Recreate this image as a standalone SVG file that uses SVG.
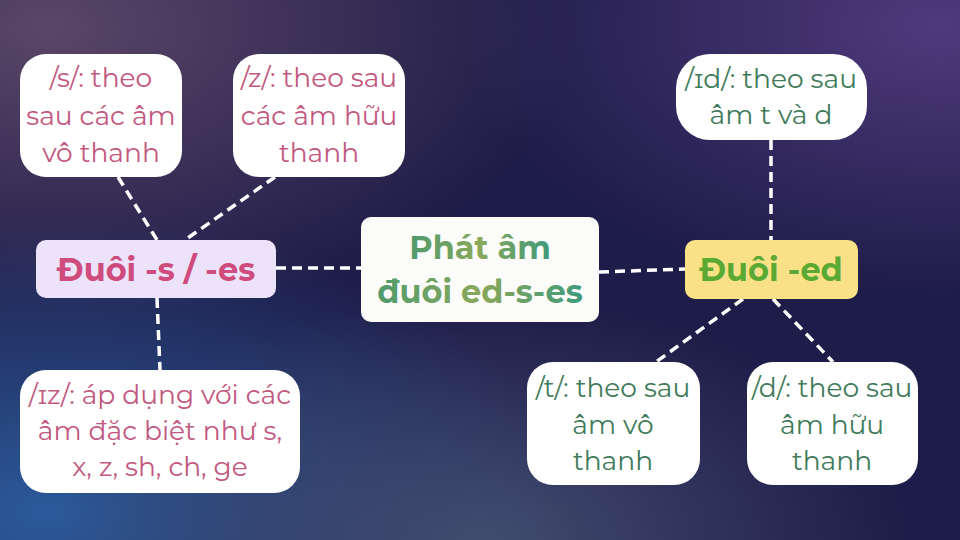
<svg xmlns="http://www.w3.org/2000/svg" width="960" height="540" viewBox="0 0 960 540">
<defs>
<radialGradient id="bgTL" cx="0.05" cy="0.05" r="0.55">
<stop offset="0" stop-color="#5a4668"/><stop offset="1" stop-color="#5a4668" stop-opacity="0"/>
</radialGradient>
<radialGradient id="bgTR" cx="0.98" cy="0.05" r="0.5">
<stop offset="0" stop-color="#4e3a7c"/><stop offset="1" stop-color="#4e3a7c" stop-opacity="0"/>
</radialGradient>
<radialGradient id="bgBL" cx="0.05" cy="0.95" r="0.55">
<stop offset="0" stop-color="#2b5a9a"/><stop offset="1" stop-color="#2b5a9a" stop-opacity="0"/>
</radialGradient>
<radialGradient id="bgBC" cx="0.5" cy="1" r="0.45">
<stop offset="0" stop-color="#424c70"/><stop offset="1" stop-color="#424c70" stop-opacity="0"/>
</radialGradient>
<linearGradient id="titleGrad" x1="0" y1="0" x2="1" y2="0">
<stop offset="0" stop-color="#4f9a6c"/><stop offset="0.5" stop-color="#8aa85a"/><stop offset="1" stop-color="#3f9a7c"/>
</linearGradient>
<style>
.leaf{fill:#ffffff}
.pk{fill:#c2587f;font-family:"Montserrat","Noto Sans","Open Sans",sans-serif;font-size:26.5px;text-anchor:middle}
.gr{fill:#3f7b5a;font-family:"Montserrat","Noto Sans","Open Sans",sans-serif;font-size:26.5px;text-anchor:middle}
.bold{font-family:"Montserrat","Noto Sans","Open Sans",sans-serif;font-weight:bold;font-size:32px;text-anchor:middle}
.conn{stroke:#ffffff;stroke-width:3.5;stroke-dasharray:10 6;fill:none}
</style>
</defs>
<rect width="960" height="540" fill="#1e1c48"/>
<rect width="960" height="540" fill="url(#bgTL)"/>
<rect width="960" height="540" fill="url(#bgTR)"/>
<rect width="960" height="540" fill="url(#bgBL)"/>
<rect width="960" height="540" fill="url(#bgBC)"/>
<g id="connectors">
<line class="conn" x1="118" y1="177" x2="157" y2="240"/>
<line class="conn" x1="275" y1="177" x2="185" y2="240"/>
<line class="conn" x1="157" y1="298" x2="160" y2="370"/>
<line class="conn" x1="276" y1="268" x2="361" y2="268"/>
<line class="conn" x1="599" y1="272" x2="685" y2="269"/>
<line class="conn" x1="771" y1="140" x2="771" y2="240"/>
<line class="conn" x1="743" y1="299" x2="656" y2="362"/>
<line class="conn" x1="773" y1="299" x2="833" y2="362"/>
</g>
<g id="node-s">
<rect class="leaf" x="20" y="54" width="162" height="123" rx="26"/>
<text class="pk" x="101" y="87">/s/: theo</text>
<text class="pk" x="101" y="125">sau các âm</text>
<text class="pk" x="101" y="162">vô thanh</text>
</g>
<g id="node-z">
<rect class="leaf" x="233" y="54" width="172" height="123" rx="26"/>
<text class="pk" x="319" y="87">/z/: theo sau</text>
<text class="pk" x="319" y="125">các âm hữu</text>
<text class="pk" x="319" y="162">thanh</text>
</g>
<g id="node-duoi-s">
<rect x="36" y="240" width="240" height="58" rx="10" fill="#ece2fa"/>
<text class="bold" x="156" y="281" fill="#cf4b7c">Đuôi -s / -es</text>
</g>
<g id="node-iz">
<rect class="leaf" x="20" y="370" width="280" height="123" rx="26"/>
<text class="pk" x="160" y="404">/ɪz/: áp dụng với các</text>
<text class="pk" x="160" y="440">âm đặc biệt như s,</text>
<text class="pk" x="160" y="476">x, z, sh, ch, ge</text>
</g>
<g id="node-center">
<rect x="361" y="217" width="238" height="105" rx="10" fill="#fbfbf9"/>
<text class="bold" x="480" y="259" fill="url(#titleGrad)">Phát âm</text>
<text class="bold" x="480" y="303" fill="url(#titleGrad)">đuôi ed-s-es</text>
</g>
<g id="node-id">
<rect class="leaf" x="676" y="54" width="191" height="86" rx="34"/>
<text class="gr" x="771" y="88">/ɪd/: theo sau</text>
<text class="gr" x="771" y="124">âm t và d</text>
</g>
<g id="node-duoi-ed">
<rect x="685" y="240" width="173" height="59" rx="10" fill="#fae188"/>
<text class="bold" x="771" y="281" fill="#5aa933">Đuôi -ed</text>
</g>
<g id="node-t">
<rect class="leaf" x="527" y="362" width="173" height="123" rx="26"/>
<text class="gr" x="613" y="397">/t/: theo sau</text>
<text class="gr" x="613" y="434">âm vô</text>
<text class="gr" x="613" y="470">thanh</text>
</g>
<g id="node-d">
<rect class="leaf" x="747" y="362" width="171" height="123" rx="26"/>
<text class="gr" x="832" y="397">/d/: theo sau</text>
<text class="gr" x="832" y="434">âm hữu</text>
<text class="gr" x="832" y="470">thanh</text>
</g>
</svg>
